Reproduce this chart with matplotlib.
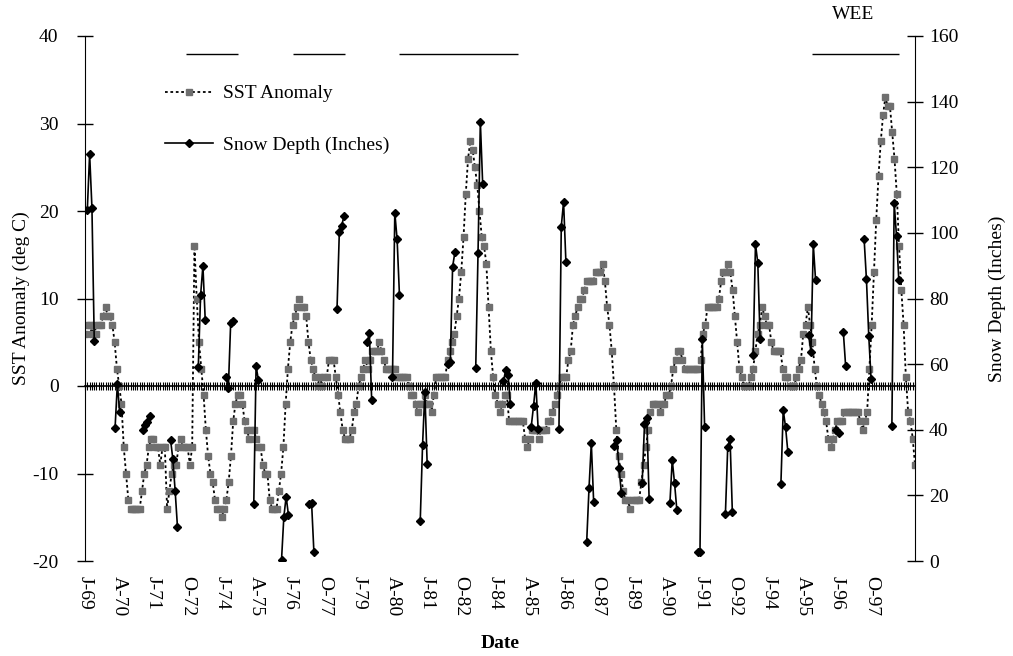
import numpy as np
import matplotlib.pyplot as plt

plt.rcParams['font.family'] = ['Liberation Serif', 'DejaVu Serif']
plt.rcParams['font.size'] = 14
plt.rcParams['axes.unicode_minus'] = False

nan = np.nan

# SST anomaly (deg C), monthly from Jan 1969, one row per year
sst = [
    6, 7, 7, 6, 7, 6, 7, 7, 8, 9, 8, 8,
    7, 5, 2, 0, -2, -7, -10, -13, -14, -14, -14, -14,
    -14, -12, -10, -9, -7, -6, -6, -7, -7, -9, -7, -7,
    -14, -12, -10, -9, -9, -7, -6, -7, -7, -7, -9, -7,
    16, 10, 5, 2, -1, -5, -8, -10, -11, -13, -14, -14,
    -15, -14, -13, -11, -8, -4, -2, -1, -1, -2, -4, -5,
    -6, -5, -5, -6, -7, -7, -9, -10, -10, -13, -14, -14,
    -14, -12, -10, -7, -2, 2, 5, 7, 8, 9, 10, 9,
    9, 8, 5, 3, 2, 1, 0, 1, 0, 1, 1, 3,
    3, 3, 1, -1, -3, -5, -6, -6, -6, -5, -3, -2,
    0, 1, 2, 3, 2, 3, 4, 4, 4, 5, 4, 3,
    2, 2, 2, 2, 2, 1, 1, 1, 1, 1, 0, -1,
    -1, -2, -3, -2, -2, -1, -2, -2, -3, -1, 1, 1,
    1, 1, 1, 3, 4, 5, 6, 8, 10, 13, 17, 22,
    26, 28, 27, 25, 23, 20, 17, 16, 14, 9, 4, 1,
    -1, -2, -3, -2, -1, -1, -4, -4, -4, -4, -4, -4,
    -4, -6, -7, -6, -5, -5, -5, -6, -5, -5, -5, -4,
    -4, -3, -2, -1, 0, 1, 1, 1, 3, 4, 7, 8,
    9, 10, 10, 11, 12, 12, 12, 12, 13, 13, 13, 14,
    12, 9, 7, 4, 0, -5, -8, -10, -12, -13, -13, -14,
    -13, -13, -13, -13, -11, -9, -7, -5, -3, -2, -2, -2,
    -3, -2, -2, -1, -1, 0, 2, 3, 4, 4, 3, 2,
    2, 2, 2, 2, 2, 2, 3, 6, 7, 9, 9, 9,
    9, 9, 10, 12, 13, 13, 14, 13, 11, 8, 5, 2,
    1, 0, 0, 0, 1, 2, 4, 6, 7, 9, 8, 7,
    7, 5, 4, 4, 4, 4, 2, 1, 1, 0, 0, 0,
    1, 2, 3, 6, 7, 9, 7, 5, 2, 0, -1, -2,
    -3, -4, -6, -7, -6, -5, -4, -4, -4, -3, -3, -3,
    -3, -3, -3, -3, -4, -5, -4, -3, 2, 7, 13, 19,
    24, 28, 31, 33, 32, 32, 29, 26, 22, 16, 11, 7,
    1, -3, -4, -6, -9,
]

# snow depth (inches) per winter month, one entry per year 1969-1998
snow_feb = [107, 40.5, 39.9, 37, 59, 56.2, 17.4, 0.3, 17.4, 76.7,
            nan, 56, 12.2, 60, 58.7, 54.9, 40.9, 40.2, 5.9, 35.1,
            23.9, 17.8, 2.8, 14.4, 62.8, 23.5, 68.9, 40, 98, 41.1]
snow_mar = [124, 54, 41.5, 31, 81, 52.6, 59.4, 13.4, 17.8, 100.2,
            66.8, 106.2, 35.3, 60.5, 94, 58.2, 47.2, 101.9, 22.2, 36.9,
            41.7, 30.8, 2.8, 34.8, 96.6, 46, 63.8, 39, 85.8, 109.2]
snow_apr = [107.7, 45.3, 42.5, 21.3, 90, 72.4, 55.2, 19.6, 2.8, 102.2,
            69.4, 98, 51.5, 89.7, 133.9, 56.7, 54.3, 109.5, 35.9, 28.3,
            43.5, 23.7, 67.6, 37.3, 90.9, 40.9, 96.6, nan, 68.6, 99]
snow_may = [67.2, nan, 44.3, 10.3, 73.5, 73.2, nan, 14, nan, 105,
            49, 81.2, 29.5, 94.1, 115, 47.8, 40.2, 91.2, 18.1, 20.6,
            18.9, 15.5, 40.9, 14.9, 67.6, 33.3, 85.5, 69.8, 55.5, 85.5]
snow_jun = [nan] * 27 + [59.4, nan, nan]

# date labels, every 15 months
date_labels = ['J-69', 'A-70', 'J-71', 'O-72', 'J-74', 'A-75', 'J-76', 'O-77',
               'J-79', 'A-80', 'J-81', 'O-82', 'J-84', 'A-85', 'J-86', 'O-87',
               'J-89', 'A-90', 'J-91', 'O-92', 'J-94', 'A-95', 'J-96', 'O-97']

# marked periods (months since Jan 1969)
period_start = [44.5, 91, 137.5, 319]
period_end = [67, 114, 190, 357]


fig = plt.figure(figsize=(10.13, 6.56), dpi=100)
ax = fig.add_axes([85 / 1013, 1 - 561 / 656, 830 / 1013, 525 / 656])

months = np.arange(len(sst))
sst_line, = ax.plot(months, sst, color='black', linestyle=(0, (1.5, 1.5)),
                    linewidth=1.3, marker='s', markersize=4,
                    markerfacecolor='#6f6f6f', markeredgecolor='#6f6f6f',
                    label='SST Anomaly')

ax.set_xlim(0, len(sst) - 1)
ax.set_ylim(-20, 40)
ax.set_yticks(range(-20, 41, 10))
ax.spines['top'].set_visible(False)
ax.spines['right'].set_visible(False)
ax.spines['bottom'].set_position(('data', 0))
ax.spines['bottom'].set_linewidth(1.2)
ax.set_xticks(months)
ax.tick_params(axis='x', direction='inout', length=6, width=0.8,
               labelbottom=False)
ax.tick_params(axis='y', direction='inout', length=12, width=1, pad=13)
ax.set_ylabel('SST Anomaly (deg C)', labelpad=2)

for s, e in zip(period_start, period_end):
    ax.hlines(37.9, s, e, color='black', linewidth=1)
ax.text(337, 42.5, 'WEE', ha='center', va='center', clip_on=False)

sec = ax.secondary_xaxis(0.0)
sec.set_xticks(np.arange(len(date_labels)) * 15, labels=date_labels,
               rotation=-90)
sec.tick_params(length=0, pad=11)
sec.spines['bottom'].set_visible(False)
sec.set_xlabel('Date', fontweight='bold', labelpad=13)

ax2 = ax.twinx()
ax2.set_ylim(0, 160)
ax2.set_yticks(range(0, 161, 20))
ax2.tick_params(axis='y', direction='inout', length=12, width=1, pad=4)
ax2.set_ylabel('Snow Depth (Inches)', labelpad=22)
for side in ['top', 'bottom', 'left']:
    ax2.spines[side].set_visible(False)

# snow depth has its own monthly category axis (Jan 1969 - Dec 1998)
ax3 = ax2.twiny()
snow = np.full(360, nan)
for i in range(30):
    snow[12 * i + 1] = snow_feb[i]
    snow[12 * i + 2] = snow_mar[i]
    snow[12 * i + 3] = snow_apr[i]
    snow[12 * i + 4] = snow_may[i]
    snow[12 * i + 5] = snow_jun[i]
snow_line, = ax3.plot(np.arange(360), snow, color='black', linewidth=1.2,
                      marker='D', markersize=4.5, label='Snow Depth (Inches)')
ax3.set_xlim(0, 359)
ax3.xaxis.set_visible(False)
for side in ax3.spines:
    ax3.spines[side].set_visible(False)

ax3.legend(handles=[sst_line, snow_line], loc='upper left',
           bbox_to_anchor=(0.096, 0.907), frameon=False, handlelength=2.5,
           handletextpad=0.5, labelspacing=1.75, borderpad=0,
           borderaxespad=0)

fig.savefig('out.png', dpi=100)
